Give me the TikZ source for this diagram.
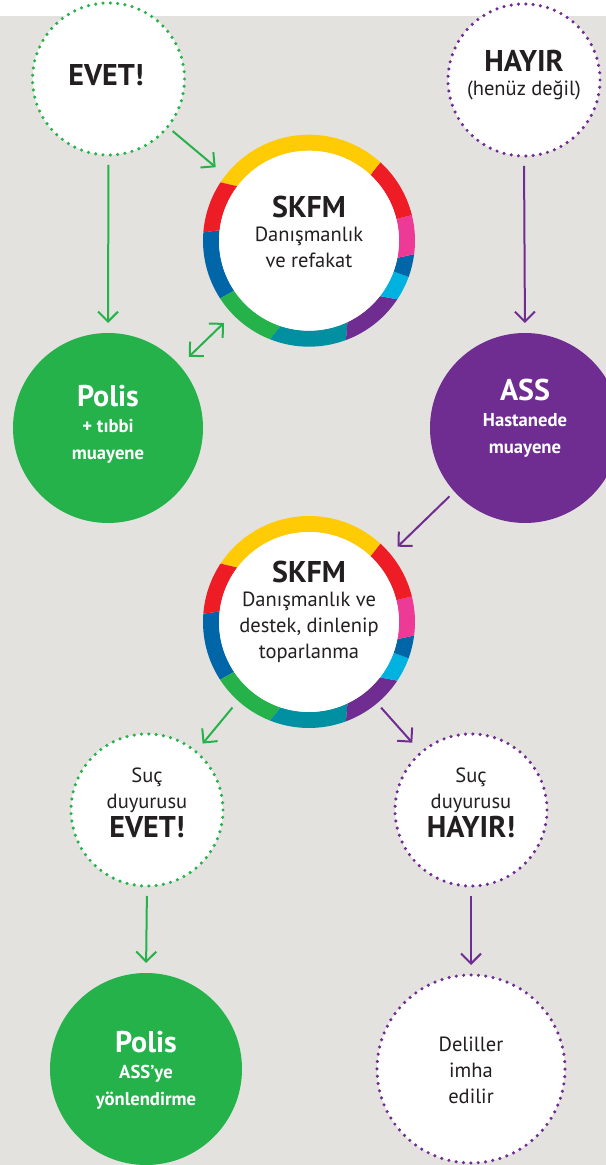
\documentclass[tikz,border=0pt]{standalone}
\usepackage{fontspec}
\setmainfont{PT Sans}
\usetikzlibrary{calc,arrows.meta}
\definecolor{bg}{HTML}{E3E2DF}
\definecolor{grn}{HTML}{25B24B}
\definecolor{pur}{HTML}{6F2C91}
\definecolor{yel}{HTML}{FFCB05}
\definecolor{rd}{HTML}{EE1C25}
\definecolor{pnk}{HTML}{EE3A97}
\definecolor{blu}{HTML}{0066A8}
\definecolor{cyn}{HTML}{00B2E0}
\definecolor{tea}{HTML}{0090A2}
\definecolor{ink}{HTML}{231F20}
\newcommand\bigt{\fontsize{22.5}{26}\selectfont\bfseries}
\newcommand\reg{\fontsize{15.4}{19.5}\selectfont}
\newcommand\sbf{\fontsize{14}{20.5}\selectfont\bfseries}
\newcommand\seg[6]{\fill[#1] ($(#2)+(#3:106)$) arc[start angle=#3,end angle=#4,radius=106] -- ($(#2)+(#6:90)$) arc[start angle=#6,end angle=#5,radius=90] -- cycle;}
\newcommand\ringdraw[1]{%
 \seg{blu}{#1}{175.5}{213}{173.3}{213.7}
 \seg{grn}{#1}{213}{248.4}{213.7}{251.6}
 \seg{tea}{#1}{248.4}{290.4}{251.6}{295.3}
 \seg{pur}{#1}{290.4}{326.4}{295.3}{322}
 \seg{cyn}{#1}{326.4}{340}{322}{340}
 \seg{blu}{#1}{340}{352.7}{340}{349}
 \seg{pnk}{#1}{352.7}{374}{349}{374}
 \seg{rd}{#1}{14}{47.7}{14}{47}
 \seg{yel}{#1}{47.7}{146.6}{47}{142.8}
 \seg{rd}{#1}{146.6}{175.5}{142.8}{173.3}
 \fill[white] (#1) circle[radius=90];}
\tikzset{
 dotg/.style={circle,inner sep=0pt,outer sep=0pt,fill=white,line width=2.6pt,line cap=round,minimum size=#1*0.75pt,dash pattern=on 0pt off 5.51pt},
 dotgreen/.style={dotg=152,draw=grn},
 dotpurple/.style={dotg=152,draw=pur},
 solidc/.style={circle,inner sep=0pt,outer sep=0pt,minimum size=#1*0.75pt},
 ringc/.style={solidc=212},
 txt/.style={align=center,text=ink,inner sep=0pt},
 wtxt/.style={align=center,text=white,inner sep=0pt},
 arr/.style={line width=1.5pt,-{Straight Barb[length=7.5pt,width=15pt,line width=1.5pt]}},
 darr/.style={line width=1.5pt,{Straight Barb[length=7.5pt,width=15pt,line width=1.5pt]}-{Straight Barb[length=7.5pt,width=15pt,line width=1.5pt]}},
}
\begin{document}
\begin{tikzpicture}[x=0.75pt,y=0.75pt]
\useasboundingbox (0,0) rectangle (606,1165);
\clip (0,0) rectangle (606,1165);
\fill[white] (0,0) rectangle (606,1165);
\fill[bg] (0,0) rectangle (606,1149);
% circles
\node[dotgreen] (evet) at (108.5,1086) {};
\node[dotpurple] (hayir) at (524,1085) {};
\node[solidc=190,fill=grn] (polis) at (108,737) {};
\node[solidc=190,fill=pur] (ass) at (525,737) {};
\node[ringc] (r1) at (309,924.3) {};
\node[ringc] (r2) at (309,543) {};
\ringdraw{r1}
\ringdraw{r2}
\node[dotgreen] (suce) at (147,355) {};
\node[dotpurple] (such) at (471,355) {};
\node[solidc=192,fill=grn] (pa) at (146,96) {};
\node[dotg=188,draw=pur,dash pattern=on 0pt off 5.535pt] (del) at (471,96) {};
% texts
\node[txt,font=\bigt] (tevet) at (106,1090) {EVET!};
\node[txt,font=\reg] (thayir) at (524,1090) {{\bigt HAYIR}\\[-1pt](henüz değil)};
\node[txt,font=\reg] (tr1) at (309,933) {{\bigt SKFM}\\[-1pt]Danışmanlık\\ve refakat};
\node[txt,font=\reg] (tr2) at (309,553) {{\bigt SKFM}\\[-1pt]Danışmanlık ve\\destek, dinlenip\\toparlanma};
\node[wtxt,font=\sbf] (tpolis) at (108,741) {{\bigt Polis}\\[-1pt]+ tıbbi\\muayene};
\node[wtxt,font=\sbf] (tass) at (525,747) {{\bigt ASS}\\[-1pt]Hastanede\\muayene};
\node[txt,font=\reg] (tsuce) at (147,362) {Suç\\duyurusu\\[2pt]{\bigt EVET!}};
\node[txt,font=\reg] (tsuch) at (471,362) {Suç\\duyurusu\\[2pt]{\bigt HAYIR!}};
\node[wtxt,font=\sbf] (tpa) at (146,95) {{\bigt Polis}\\[-1pt]ASS’ye\\yönlendirme};
\node[txt,font=\reg] (tdel) at (471,95) {Deliller\\imha\\edilir};
% connectors
\draw[arr,grn,shorten <=7.5pt,shorten >=7.5pt] (evet.south) -- (polis.north);
\draw[arr,grn,shorten <=5pt,shorten >=9.6pt] (evet.-39.8) -- (r1.142.3);
\draw[darr,grn,shorten <=9.5pt,shorten >=9.2pt] (polis.41.2) -- (r1.224.8);
\draw[arr,pur,shorten <=7.5pt,shorten >=7.5pt] (hayir.south) -- (ass.north);
\draw[arr,pur,shorten <=5.2pt,shorten >=7.7pt] (ass.222.6) -- (r2.40.8);
\draw[arr,grn,shorten <=6.6pt,shorten >=8pt] (r2.228.5) -- (suce.50.6);
\draw[arr,pur,shorten <=4.5pt,shorten >=10pt] (r2.-50) -- (such.131.4);
\draw[arr,grn,shorten <=7.5pt,shorten >=7.5pt] (suce.south) -- (pa.north);
\draw[arr,pur,shorten <=7.5pt,shorten >=7.5pt] (such.south) -- (del.north);
\end{tikzpicture}
\end{document}
